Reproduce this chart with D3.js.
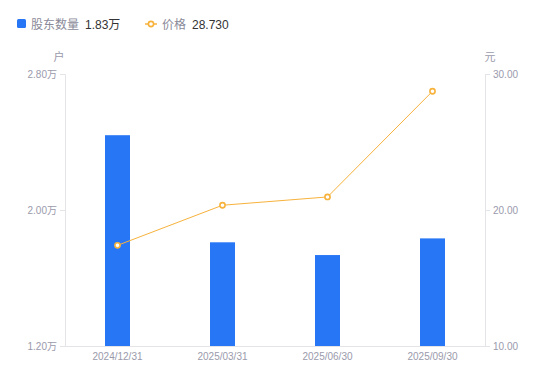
<!DOCTYPE html>
<html lang="zh">
<head>
  <meta charset="UTF-8">
  <title>股东数量与价格</title>
  <script src="https://d3js.org/d3.v7.min.js"></script>
  <style>
    body { margin: 0; background: #fff; font-family: "Liberation Sans", "Noto Sans CJK SC", sans-serif; }
    svg { display: block; font-family: "Liberation Sans", "Noto Sans CJK SC", sans-serif; }
    .tick text { fill: #9a9aab; font-size: 10px; }
    .unit { fill: #9a9aab; font-size: 11px; }
  </style>
</head>
<body>
<svg width="550" height="381"></svg>
<script>
const dates = ["2024/12/31", "2025/03/31", "2025/06/30", "2025/09/30"];
const holders = [2.44, 1.81, 1.735, 1.833];   // 万户
const prices = [17.40, 20.35, 20.96, 28.73];  // 元
const leftTicks = [1.2, 2.0, 2.8];
const rightTicks = [10, 20, 30];

const blue = "#2776f6", orange = "#f7b23c";
const axisColor = "#e3e3e8";
const fontStack = "Liberation Sans, Noto Sans CJK SC, sans-serif";

const svg = d3.select("svg");
const m = { left: 65, right: 485, top: 74, bottom: 346 };

const x = d3.scaleBand().domain(dates).range([m.left, m.right]);
const yL = d3.scaleLinear().domain([1.2, 2.8]).range([m.bottom, m.top]);
const yR = d3.scaleLinear().domain([10, 30]).range([m.bottom, m.top]);

// axes
const leftAxis = svg.append("g").attr("transform", `translate(${m.left},0)`)
  .call(d3.axisLeft(yL).tickValues(leftTicks).tickSize(5).tickPadding(3)
    .tickFormat(d => d3.format(".2f")(d) + "万"));
const rightAxis = svg.append("g").attr("transform", `translate(${m.right},0)`)
  .call(d3.axisRight(yR).tickValues(rightTicks).tickSize(5).tickPadding(3)
    .tickFormat(d3.format(".2f")));
const bottomAxis = svg.append("g").attr("transform", `translate(0,${m.bottom})`)
  .call(d3.axisBottom(x).tickSize(0).tickPadding(7));

[leftAxis, rightAxis, bottomAxis].forEach(g => {
  g.attr("font-family", fontStack);
  g.select(".domain").attr("stroke", axisColor);
  g.selectAll(".tick line").attr("stroke", axisColor);
});
bottomAxis.select(".domain").attr("d", `M${m.left},0.5H${m.right}`);

svg.append("text").attr("class", "unit").attr("x", 59).attr("y", 61)
  .attr("text-anchor", "middle").text("户");
svg.append("text").attr("class", "unit").attr("x", 490).attr("y", 61)
  .attr("text-anchor", "middle").text("元");

// bars
const bw = 25;
svg.selectAll(".bar").data(holders).enter().append("rect")
  .attr("class", "bar")
  .attr("x", (d, i) => x(dates[i]) + x.bandwidth() / 2 - bw / 2)
  .attr("width", bw)
  .attr("y", d => yL(d))
  .attr("height", d => m.bottom - yL(d))
  .attr("fill", blue);

// price line
const cx = (d, i) => x(dates[i]) + x.bandwidth() / 2;
svg.append("path").datum(prices)
  .attr("fill", "none").attr("stroke", orange).attr("stroke-width", 1)
  .attr("d", d3.line().x(cx).y(d => yR(d)));
svg.selectAll(".pt").data(prices).enter().append("circle")
  .attr("class", "pt")
  .attr("cx", cx).attr("cy", d => yR(d)).attr("r", 2.6)
  .attr("fill", "#fff").attr("stroke", orange).attr("stroke-width", 1.6);

// legend
const lg = svg.append("g").attr("font-size", 12).attr("font-family", fontStack);
lg.append("rect").attr("x", 17).attr("y", 19).attr("width", 9).attr("height", 9)
  .attr("rx", 1.5).attr("fill", blue);
lg.append("text").attr("x", 31).attr("y", 28.5).attr("fill", "#8a8a99").text("股东数量");
lg.append("text").attr("x", 85).attr("y", 28.5).attr("fill", "#333")
  .text(d3.format(".2f")(holders[3]) + "万");
lg.append("line").attr("x1", 145).attr("x2", 157).attr("y1", 24).attr("y2", 24)
  .attr("stroke", orange).attr("stroke-width", 1.5);
lg.append("circle").attr("cx", 151).attr("cy", 24).attr("r", 2.6)
  .attr("fill", "#fff").attr("stroke", orange).attr("stroke-width", 1.6);
lg.append("text").attr("x", 162).attr("y", 28.5).attr("fill", "#8a8a99").text("价格");
lg.append("text").attr("x", 192).attr("y", 28.5).attr("fill", "#333")
  .text(d3.format(".3f")(prices[3]));
</script>
</body>
</html>
